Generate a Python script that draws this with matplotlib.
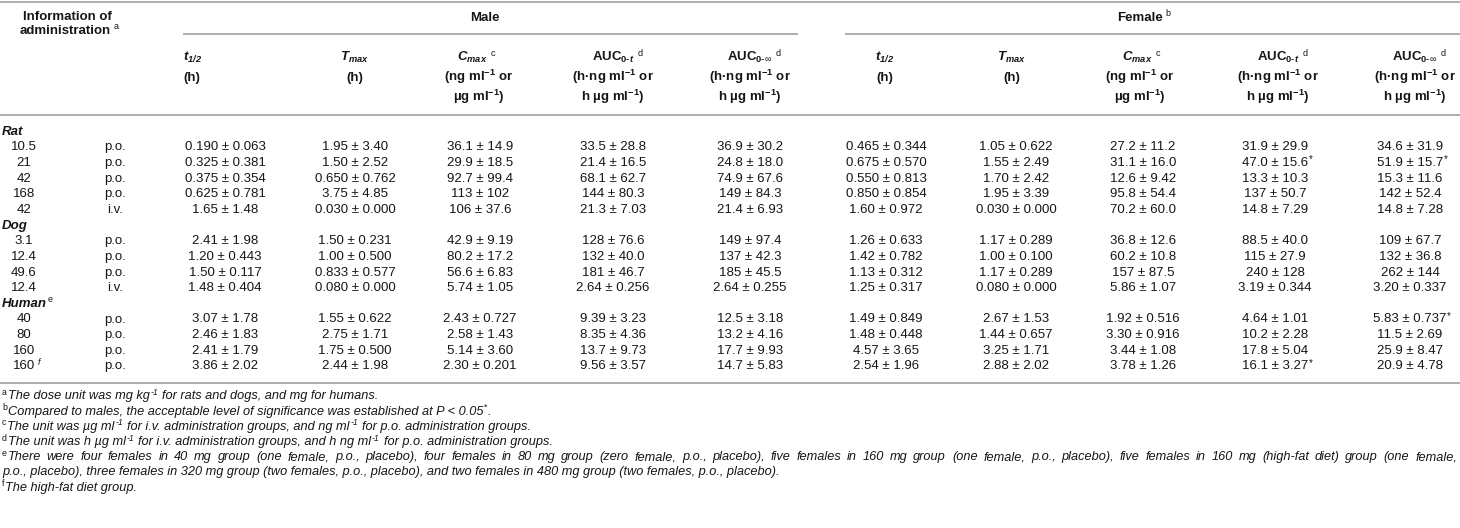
import matplotlib
matplotlib.use("Agg")
import matplotlib.pyplot as plt

# ---------------- data ----------------
species = ["Rat", "Dog", "Human"]
species_rows = [5, 4, 4]
doses = ["10.5", "21", "42", "168", "42", "3.1", "12.4", "49.6", "12.4", "40", "80", "160", "160"]
dose_notes = ["", "", "", "", "", "", "", "", "", "", "", "", "f"]
routes = ["p.o.", "p.o.", "p.o.", "p.o.", "i.v.", "p.o.", "p.o.", "p.o.", "i.v.", "p.o.", "p.o.", "p.o.", "p.o."]

male_thalf = ["0.190 ± 0.063", "0.325 ± 0.381", "0.375 ± 0.354", "0.625 ± 0.781", "1.65 ± 1.48",
              "2.41 ± 1.98", "1.20 ± 0.443", "1.50 ± 0.117", "1.48 ± 0.404",
              "3.07 ± 1.78", "2.46 ± 1.83", "2.41 ± 1.79", "3.86 ± 2.02"]
male_tmax = ["1.95 ± 3.40", "1.50 ± 2.52", "0.650 ± 0.762", "3.75 ± 4.85", "0.030 ± 0.000",
             "1.50 ± 0.231", "1.00 ± 0.500", "0.833 ± 0.577", "0.080 ± 0.000",
             "1.55 ± 0.622", "2.75 ± 1.71", "1.75 ± 0.500", "2.44 ± 1.98"]
male_cmax = ["36.1 ± 14.9", "29.9 ± 18.5", "92.7 ± 99.4", "113 ± 102", "106 ± 37.6",
             "42.9 ± 9.19", "80.2 ± 17.2", "56.6 ± 6.83", "5.74 ± 1.05",
             "2.43 ± 0.727", "2.58 ± 1.43", "5.14 ± 3.60", "2.30 ± 0.201"]
male_auct = ["33.5 ± 28.8", "21.4 ± 16.5", "68.1 ± 62.7", "144 ± 80.3", "21.3 ± 7.03",
             "128 ± 76.6", "132 ± 40.0", "181 ± 46.7", "2.64 ± 0.256",
             "9.39 ± 3.23", "8.35 ± 4.36", "13.7 ± 9.73", "9.56 ± 3.57"]
male_aucinf = ["36.9 ± 30.2", "24.8 ± 18.0", "74.9 ± 67.6", "149 ± 84.3", "21.4 ± 6.93",
               "149 ± 97.4", "137 ± 42.3", "185 ± 45.5", "2.64 ± 0.255",
               "12.5 ± 3.18", "13.2 ± 4.16", "17.7 ± 9.93", "14.7 ± 5.83"]
female_thalf = ["0.465 ± 0.344", "0.675 ± 0.570", "0.550 ± 0.813", "0.850 ± 0.854", "1.60 ± 0.972",
                "1.26 ± 0.633", "1.42 ± 0.782", "1.13 ± 0.312", "1.25 ± 0.317",
                "1.49 ± 0.849", "1.48 ± 0.448", "4.57 ± 3.65", "2.54 ± 1.96"]
female_tmax = ["1.05 ± 0.622", "1.55 ± 2.49", "1.70 ± 2.42", "1.95 ± 3.39", "0.030 ± 0.000",
               "1.17 ± 0.289", "1.00 ± 0.100", "1.17 ± 0.289", "0.080 ± 0.000",
               "2.67 ± 1.53", "1.44 ± 0.657", "3.25 ± 1.71", "2.88 ± 2.02"]
female_cmax = ["27.2 ± 11.2", "31.1 ± 16.0", "12.6 ± 9.42", "95.8 ± 54.4", "70.2 ± 60.0",
               "36.8 ± 12.6", "60.2 ± 10.8", "157 ± 87.5", "5.86 ± 1.07",
               "1.92 ± 0.516", "3.30 ± 0.916", "3.44 ± 1.08", "3.78 ± 1.26"]
female_auct = ["31.9 ± 29.9", "47.0 ± 15.6", "13.3 ± 10.3", "137 ± 50.7", "14.8 ± 7.29",
               "88.5 ± 40.0", "115 ± 27.9", "240 ± 128", "3.19 ± 0.344",
               "4.64 ± 1.01", "10.2 ± 2.28", "17.8 ± 5.04", "16.1 ± 3.27"]
female_aucinf = ["34.6 ± 31.9", "51.9 ± 15.7", "15.3 ± 11.6", "142 ± 52.4", "14.8 ± 7.28",
                 "109 ± 67.7", "132 ± 36.8", "262 ± 144", "3.20 ± 0.337",
                 "5.83 ± 0.737", "11.5 ± 2.69", "25.9 ± 8.47", "20.9 ± 4.78"]
female_auct_sig = [False, True, False, False, False, False, False, False, False, False, False, False, True]
female_aucinf_sig = [False, True, False, False, False, False, False, False, False, True, False, False, False]

male_cols = [male_thalf, male_tmax, male_cmax, male_auct, male_aucinf]
female_cols = [female_thalf, female_tmax, female_cmax, female_auct, female_aucinf]
female_sig = [None, None, None, female_auct_sig, female_aucinf_sig]

header_titles = [r"$\mathbfit{t}_{\mathbfit{1/2}}$", r"$\mathbfit{T}_{\mathbfit{max}}$",
                 r"$\mathbfit{C}_{\mathbfit{max}}$", r"$\mathbf{AUC}_{\mathbf{0‐}\mathbfit{t}}$",
                 r"$\mathbf{AUC}_{\mathbf{0‐}\infty}$"]
header_notes = ["", "", "c", "d", "d"]
header_units = [["(h)"], ["(h)"],
                [r"(ng ml$^{\mathbf{-1}}$ or", r"µg ml$^{\mathbf{-1}}$)"],
                [r"(h·ng ml$^{\mathbf{-1}}$ or", r"h µg ml$^{\mathbf{-1}}$)"],
                [r"(h·ng ml$^{\mathbf{-1}}$ or", r"h µg ml$^{\mathbf{-1}}$)"]]

# footnotes: list of segments, (text, is_superscript)
footnotes = [
    [("a", True), ("The dose unit was mg kg", False), ("-1", True), (" for rats and dogs, and mg for humans.", False)],
    [("b", True), ("Compared to males, the acceptable level of significance was established at P < 0.05", False), ("*", True), (".", False)],
    [("c", True), ("The unit was µg ml", False), ("-1", True), (" for i.v. administration groups, and ng ml", False), ("-1", True),
     (" for p.o. administration groups.", False)],
    [("d", True), ("The unit was h µg ml", False), ("-1", True), (" for i.v. administration groups, and h ng ml", False), ("-1", True),
     (" for p.o. administration groups.", False)],
    [("e", True), ("There were four females in 40 mg group (one female, p.o., placebo), four females in 80 mg group (zero female, p.o., placebo), "
                   "five females in 160 mg group (one female, p.o., placebo), five females in 160 mg (high-fat diet) group (one female,", False)],
    [("p.o., placebo), three females in 320 mg group (two females, p.o., placebo), and two females in 480 mg group (two females, p.o., placebo).", False)],
    [("f", True), ("The high-fat diet group.", False)],
]
justified_lines = [4]

# ---------------- style ----------------
FONT = "Liberation Sans"
plt.rcParams["font.family"] = [FONT, "DejaVu Sans"]
plt.rcParams["mathtext.fontset"] = "custom"
plt.rcParams["mathtext.rm"] = FONT
plt.rcParams["mathtext.it"] = FONT + ":italic"
plt.rcParams["mathtext.bf"] = FONT + ":bold"
plt.rcParams["mathtext.sf"] = FONT
try:
    plt.rcParams["mathtext.bfit"] = FONT + ":italic:bold"
except KeyError:
    pass

TXT = "#161616"
RULE = "#a0a0a0"

fig = plt.figure(figsize=(14.6, 5.28), dpi=100)
ax = fig.add_axes([0, 0, 1, 1])
ax.set_xlim(0, 1460)
ax.set_ylim(528, 0)
ax.axis("off")
renderer = fig.canvas.get_renderer()


def T(x, y, s, size=9.5, **kw):
    kw.setdefault("va", "baseline")
    kw.setdefault("color", TXT)
    return ax.text(x, y, s, fontsize=size, **kw)


def sup_after(t, s, gap=1.5, rise=4.5, size=6.5, **kw):
    bb = t.get_window_extent(renderer)
    y = t.get_position()[1] - rise
    kw.setdefault("color", TXT)
    return ax.text(bb.x1 + gap, y, s, fontsize=size, va="baseline", ha="left", **kw)


def width_of(o):
    return o.get_window_extent(renderer).width


# ---------------- rules ----------------
for yy in (2, 115, 383):
    ax.hlines(yy, 0, 1460, color=RULE, lw=1.2)
ax.hlines(34, 183, 798, color=RULE, lw=1.2)
ax.hlines(34, 845, 1460, color=RULE, lw=1.2)

# ---------------- header ----------------
T(67, 20.5, "Information of", weight="bold", ha="center")
t = T(65, 33.5, "administration", weight="bold", ha="center")
sup_after(t, "a", gap=3)
T(485, 21, "Male", weight="bold", ha="center")
t = T(1140, 21, "Female", weight="bold", ha="center")
sup_after(t, "b", gap=3)

male_hx = [183, 355, 472, 613, 750]
female_hx = [885, 1012, 1137, 1278, 1415]
unit_shift = [0, 0, 7, 0, 0]
male_dx = [225, 355, 480, 613, 750]
female_dx = [886, 1016, 1143, 1275, 1410]
line_y = [60.5, 80.5, 101]

for hx_list, is_male in ((male_hx, True), (female_hx, False)):
    for j, hx in enumerate(hx_list):
        ha = "left" if (is_male and j == 0) else "center"
        t = T(hx, line_y[0], header_titles[j], weight="bold", ha=ha)
        if header_notes[j]:
            sup_after(t, header_notes[j], gap=3, rise=5)
        ux = hx + (unit_shift[j] if is_male else 3 if j == 2 else 0)
        for k, u in enumerate(header_units[j]):
            T(ux, line_y[k + 1], u, weight="bold", ha=ha)

# ---------------- body ----------------
row_y0 = 130.0
row_step = 15.65
r = 0
i = 0
for sp, n in zip(species, species_rows):
    yb = row_y0 + r * row_step + 4.7
    t = T(2, yb, sp, weight="bold", style="italic", ha="left")
    if sp == "Human":
        sup_after(t, "e", gap=1, rise=4.5)
    r += 1
    for _ in range(n):
        yb = row_y0 + r * row_step + 4.7
        t = T(24, yb, doses[i], ha="center")
        if dose_notes[i]:
            sup_after(t, dose_notes[i], gap=3, rise=4.5, style="italic")
        T(115, yb, routes[i], ha="center")
        for j, col in enumerate(male_cols):
            T(male_dx[j], yb, col[i], ha="center")
        for j, col in enumerate(female_cols):
            t = T(female_dx[j], yb, col[i], ha="center")
            if female_sig[j] is not None and female_sig[j][i]:
                sup_after(t, "*", gap=0.5, rise=3.5, size=7)
        r += 1
        i += 1

# ---------------- footnotes ----------------
fn_y0 = 395.0
fn_step = 15.2
fn_size = 9.2
sup_size = 6.3
RIGHT = 1457.0

_p2 = T(200, 300, "a a", size=fn_size, style="italic")
_p1 = T(200, 300, "a", size=fn_size, style="italic")
space_w = width_of(_p2) - 2 * width_of(_p1)
_p2.remove()
_p1.remove()

for k, segs in enumerate(footnotes):
    yb = fn_y0 + k * fn_step + 4.5
    x = 2.0
    for s, is_sup in segs:
        if is_sup:
            o = T(x, yb - 4.5, s, size=sup_size, ha="left", style="italic" if s == "-1" else "normal")
            x += width_of(o) + 0.8
            continue
        lead = len(s) - len(s.lstrip(" "))
        x += lead * space_w
        s = s.strip(" ")
        if k in justified_lines:
            words = s.split(" ")
            objs = [T(0, yb, wd, size=fn_size, style="italic", ha="left") for wd in words]
            widths = [width_of(o) for o in objs]
            gap = (RIGHT - x - sum(widths)) / (len(words) - 1)
            cx = x
            for o, wdt in zip(objs, widths):
                o.set_x(cx)
                cx += wdt + gap
            x = cx
        else:
            o = T(x, yb, s, size=fn_size, style="italic", ha="left")
            x += width_of(o) + 0.5

fig.savefig("out.png", dpi=100)
